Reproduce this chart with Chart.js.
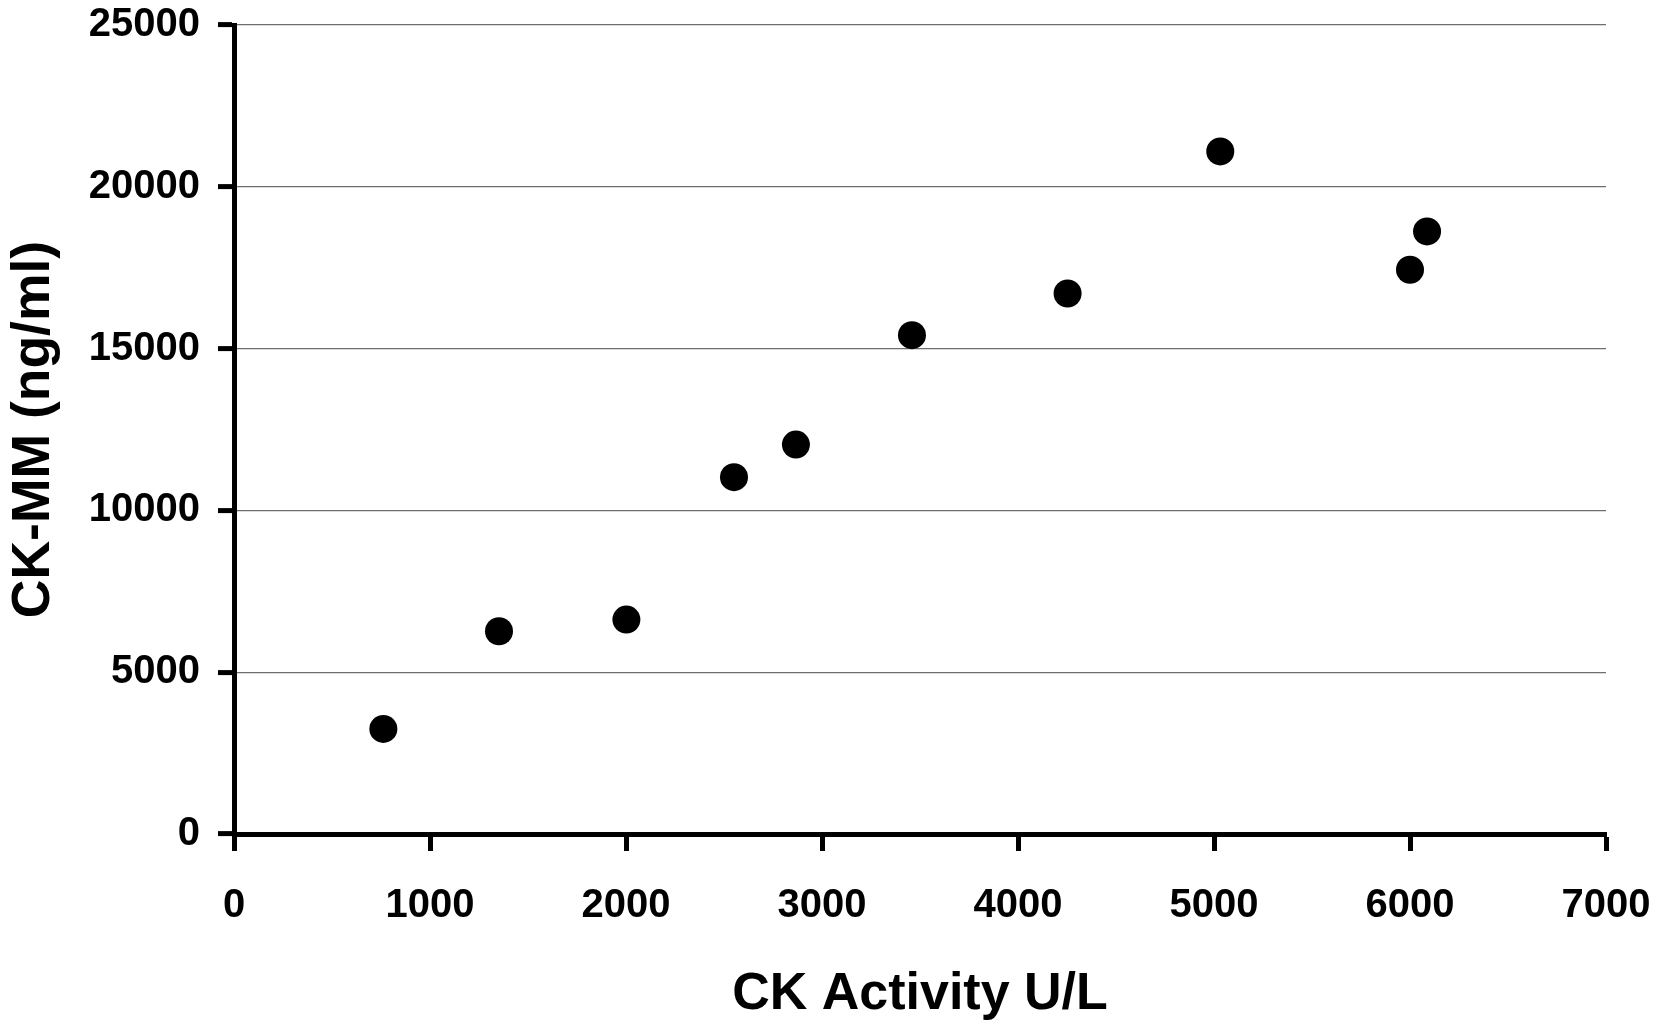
<!DOCTYPE html>
<html>
<head>
<meta charset="utf-8">
<title>CK-MM vs CK Activity</title>
<script src="https://cdn.jsdelivr.net/npm/chart.js@4.4.1/dist/chart.umd.min.js"></script>
<style>
  html, body { margin: 0; padding: 0; background: #fff; }
  #wrap { width: 1673px; height: 1023px; position: relative; }
</style>
</head>
<body>
<div id="wrap"><canvas id="ckChart"></canvas></div>
<script>
// Values
const ckActivity = [762, 1352, 2002, 2551, 2867, 3459, 4253, 5032, 6000, 6087];
const ckMM = [3246, 6266, 6625, 11027, 12035, 15416, 16703, 21093, 17436, 18620];

const xTicks = [0, 1000, 2000, 3000, 4000, 5000, 6000, 7000];
const yTicks = [0, 5000, 10000, 15000, 20000, 25000];

const fontFamily = "'Liberation Sans', Arial, sans-serif";

const points = ckActivity.map((x, i) => ({ x: x, y: ckMM[i] }));

// drop the extra room chart.js keeps for edge labels, layout padding decides instead
function noEdgePadding(scale) {
  scale.paddingTop = 0;
  scale.paddingBottom = 0;
  scale.paddingLeft = 0;
  scale.paddingRight = 0;
}

const config = {
  type: "scatter",
  data: {
    datasets: [
      {
        data: points,
        backgroundColor: "#000",
        borderColor: "#000",
        borderWidth: 0,
        pointRadius: 14,
        pointHoverRadius: 14,
      },
    ],
  },
  options: {
    responsive: true,
    maintainAspectRatio: false,
    animation: false,
    events: [],
    layout: {
      padding: { top: 25, right: 67, left: 0, bottom: 0 },
    },
    plugins: {
      legend: { display: false },
      tooltip: { enabled: false },
    },
    scales: {
      x: {
        type: "linear",
        min: xTicks[0],
        max: xTicks[xTicks.length - 1],
        afterBuildTicks: (scale) => {
          scale.ticks = xTicks.map((v) => ({ value: v }));
        },
        afterFit: (scale) => {
          scale.height = 189; // space below the plot
          noEdgePadding(scale);
        },
        border: { color: "#000", width: 5 },
        grid: {
          drawOnChartArea: false,
          drawTicks: true,
          tickLength: 17,
          tickColor: "#000",
          tickWidth: 5,
        },
        ticks: {
          padding: 31,
          color: "#000",
          maxRotation: 0,
          font: { family: fontFamily, size: 40, weight: "bold", lineHeight: 1.2 },
          callback: (v) => String(v),
        },
        title: {
          display: true,
          text: "CK Activity U/L",
          color: "#000",
          padding: 0,
          font: { family: fontFamily, size: 52, weight: "bold", lineHeight: 1.1 },
        },
      },
      y: {
        type: "linear",
        min: yTicks[0],
        max: yTicks[yTicks.length - 1],
        afterBuildTicks: (scale) => {
          scale.ticks = yTicks.map((v) => ({ value: v }));
        },
        afterFit: (scale) => {
          scale.width = 234; // space left of the plot
          noEdgePadding(scale);
        },
        border: { color: "#000", width: 5 },
        grid: {
          color: "#6e6e6e",
          lineWidth: 1.2,
          drawTicks: true,
          tickLength: 16,
          tickColor: "#000",
          tickWidth: 5,
        },
        ticks: {
          padding: 18,
          color: "#000",
          font: { family: fontFamily, size: 40, weight: "bold", lineHeight: 1.0 },
          callback: (v) => String(v),
        },
        title: {
          display: true,
          text: "CK-MM (ng/ml)",
          color: "#000",
          padding: { top: 5, bottom: 0 },
          font: { family: fontFamily, size: 53.5, weight: "bold", lineHeight: 1.1 },
        },
      },
    },
  },
};

// Render the chart
const ctx = document.getElementById("ckChart").getContext("2d");
new Chart(ctx, config);
</script>
</body>
</html>
